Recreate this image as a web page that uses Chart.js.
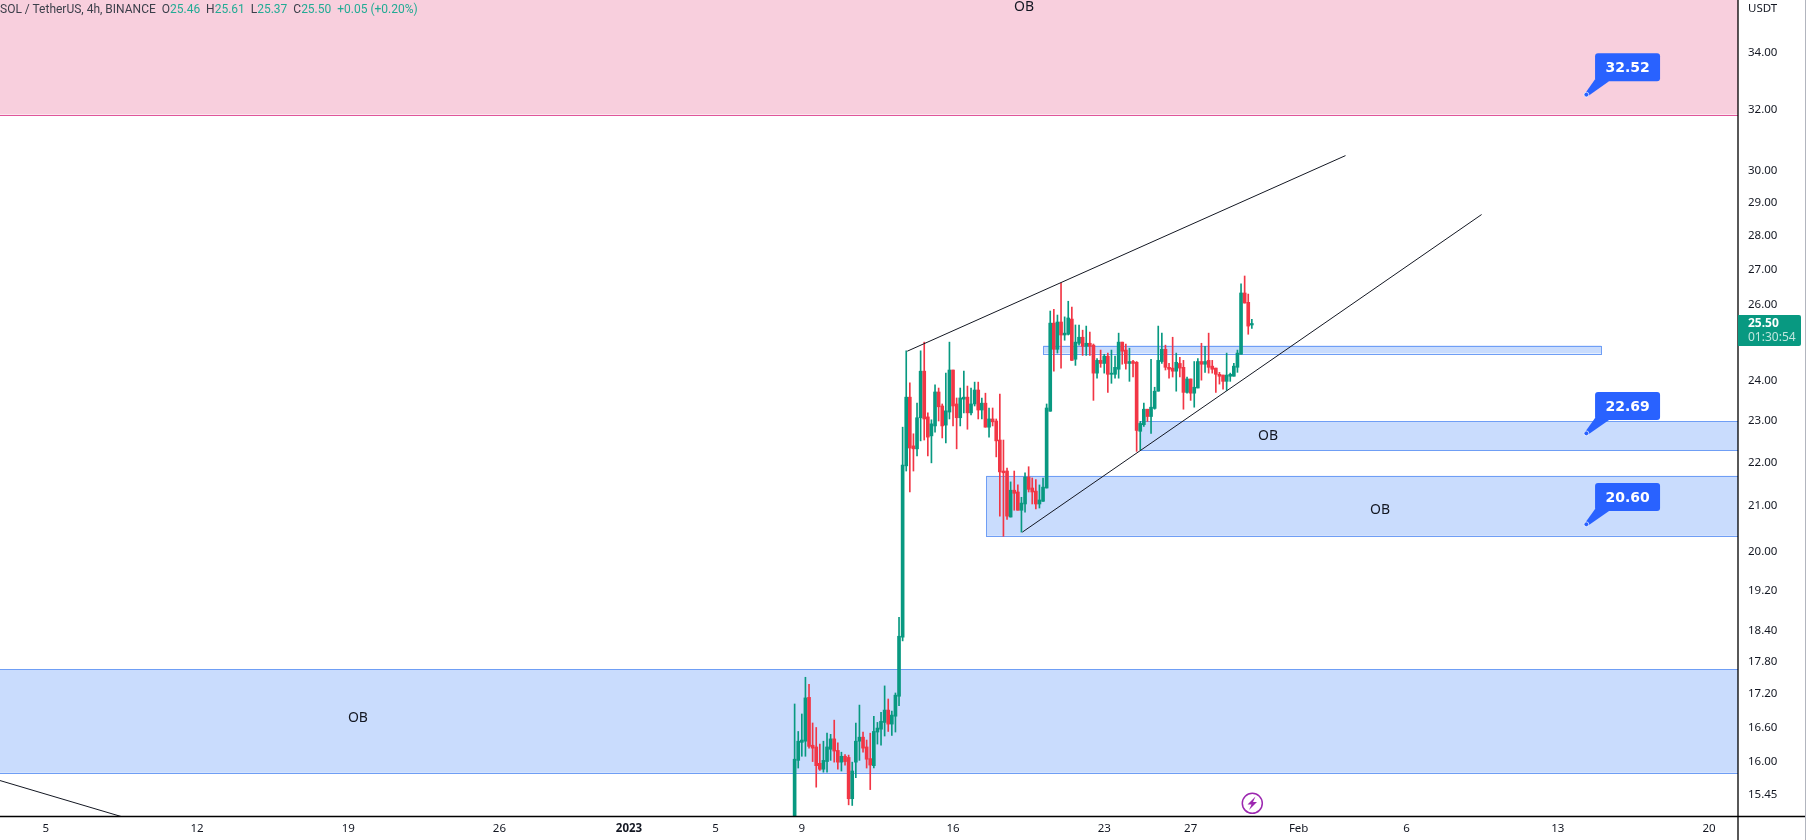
<!DOCTYPE html>
<html>
<head>
<meta charset="utf-8">
<title>SOL / TetherUS</title>
<script src="https://cdn.jsdelivr.net/npm/chart.js@4"></script>
<style>
    html, body { margin: 0; padding: 0; background: #fff; }
    #wrap { position: relative; width: 1806px; height: 840px; overflow: hidden; }
    canvas { display: block; }
    #header { position: absolute; left: 0; top: 2px; font: 12px Roboto, sans-serif; color: #3b3f4a; white-space: pre; }
    #header span { color: #22ab94; }
</style>
</head>
<body>
<div id="wrap">
    <canvas id="chart" width="1806" height="840"></canvas>
    <div id="header">SOL / TetherUS, 4h, BINANCE  O<span>25.46</span>  H<span>25.61</span>  L<span>25.37</span>  C<span>25.50</span>  <span>+0.05 (+0.20%)</span></div>
</div>
<script>
// x axis is in days from 1 Jan 2023, first candle is 8 Jan 16:00
const firstCandleDay = 7.667;
const xTickDays = [-27, -20, -13, -6, 0, 4, 8, 15, 22, 26, 31, 36, 43, 50];
const xTickLabels = ['5', '12', '19', '26', '2023', '5', '9', '16', '23', '27', 'Feb', '6', '13', '20'];
const yTicks = [15.45, 16, 16.6, 17.2, 17.8, 18.4, 19.2, 20, 21, 22, 23, 24, 26, 27, 28, 29, 30, 32, 34];

const opens = [
    14.60, 16.03, 16.34, 16.36, 17.14, 16.29, 16.26, 15.98, 15.88, 16.01,
    16.22, 16.40, 16.20, 16.00, 16.10, 16.08, 15.39, 16.00, 16.36, 16.43,
    16.26, 16.06, 15.94, 16.52, 16.57, 16.69, 16.91, 16.66, 16.80, 17.16,
    18.27, 21.92, 23.58, 22.39, 22.32, 23.07, 24.24, 23.09, 22.63, 22.87,
    23.71, 23.36, 22.89, 23.21, 24.27, 23.41, 23.07, 23.53, 23.58, 23.19,
    23.41, 23.76, 23.26, 23.43, 22.84, 23.04, 22.99, 22.53, 21.80, 21.80,
    20.76, 21.36, 21.32, 20.91, 21.05, 21.66, 21.41, 21.34, 21.05, 21.11,
    21.41, 23.23, 25.51, 24.81, 25.54, 25.19, 25.21, 25.62, 24.55, 24.97,
    25.13, 24.89, 24.97, 24.92, 24.19, 24.52, 24.44, 24.63, 24.16, 24.16,
    24.29, 25.00, 24.79, 24.44, 24.49, 24.47, 22.74, 22.90, 23.28, 23.10,
    23.30, 23.73, 24.49, 24.81, 24.34, 24.32, 24.24, 24.44, 24.34, 23.70,
    24.04, 23.68, 23.81, 24.49, 24.42, 24.52, 24.37, 24.32, 24.16, 24.14,
    23.98, 24.11, 24.11, 24.34, 24.68, 26.34, 26.08, 25.46
];
const highs = [
    17.02, 16.53, 16.84, 17.51, 17.38, 16.68, 16.60, 16.31, 16.36, 16.50,
    16.48, 16.73, 16.33, 16.17, 16.13, 16.12, 16.00, 16.68, 17.00, 16.52,
    16.38, 16.50, 16.80, 16.69, 16.87, 17.35, 17.11, 16.89, 17.22, 18.66,
    22.84, 24.77, 23.94, 22.68, 23.43, 24.77, 25.00, 23.19, 23.02, 23.89,
    23.81, 23.41, 24.19, 25.00, 24.27, 23.56, 23.81, 24.24, 23.86, 23.81,
    23.96, 23.96, 23.56, 23.68, 23.31, 23.31, 23.04, 23.66, 22.53, 21.87,
    21.55, 21.80, 21.48, 21.20, 21.76, 21.90, 21.64, 21.60, 21.48, 21.64,
    23.41, 25.84, 25.89, 25.73, 26.62, 25.68, 26.11, 25.95, 25.46, 25.46,
    25.32, 25.43, 25.27, 24.95, 24.57, 24.79, 24.68, 24.71, 24.79, 24.63,
    25.24, 25.00, 24.95, 24.84, 24.52, 24.49, 22.98, 23.43, 23.28, 24.55,
    23.83, 25.43, 25.24, 24.92, 24.44, 25.13, 24.71, 24.60, 24.52, 24.09,
    24.04, 24.49, 24.57, 24.97, 24.89, 25.24, 24.52, 24.32, 24.21, 24.14,
    24.71, 24.19, 24.44, 24.79, 26.60, 26.82, 26.31, 25.61
];
const lows = [
    14.50, 15.90, 16.10, 16.10, 16.24, 16.01, 15.58, 15.86, 15.83, 15.83,
    16.03, 16.00, 15.88, 15.85, 15.95, 15.29, 15.28, 15.74, 16.03, 16.17,
    15.90, 15.54, 15.90, 16.31, 16.29, 16.45, 16.53, 16.46, 16.52, 16.99,
    18.20, 21.80, 21.32, 21.80, 22.15, 22.51, 22.53, 22.15, 21.99, 22.72,
    22.99, 22.58, 22.46, 23.04, 22.87, 22.32, 22.87, 23.19, 22.79, 23.14,
    23.36, 23.04, 23.04, 22.84, 22.60, 22.87, 22.13, 20.78, 20.34, 20.71,
    20.76, 20.91, 20.91, 20.43, 20.87, 21.32, 21.05, 20.94, 20.96, 21.11,
    21.41, 23.23, 24.24, 24.71, 24.32, 25.05, 25.19, 24.52, 24.39, 24.92,
    24.65, 24.65, 24.65, 23.50, 24.06, 24.34, 24.19, 23.70, 23.93, 24.06,
    24.06, 24.42, 24.29, 23.98, 24.09, 22.26, 22.29, 22.86, 22.98, 22.69,
    23.28, 23.73, 24.44, 24.27, 24.06, 24.09, 23.73, 24.09, 23.28, 23.68,
    23.50, 23.33, 23.81, 24.01, 24.21, 24.19, 24.19, 23.70, 23.91, 23.78,
    23.75, 23.98, 24.11, 24.21, 24.68, 26.06, 25.21, 25.37
];
const closes = [
    16.05, 16.36, 16.38, 17.13, 16.27, 16.24, 15.94, 15.88, 16.03, 16.26,
    16.40, 16.19, 16.00, 16.10, 16.01, 15.39, 15.85, 16.36, 16.43, 16.24,
    16.05, 15.95, 16.53, 16.59, 16.71, 16.91, 16.66, 16.82, 17.18, 18.29,
    21.94, 23.58, 22.34, 22.32, 23.07, 24.24, 23.04, 22.60, 22.92, 23.71,
    23.34, 22.87, 23.24, 24.27, 23.36, 23.07, 23.56, 23.58, 23.19, 23.41,
    23.76, 23.26, 23.43, 22.84, 23.04, 22.97, 22.51, 21.78, 21.76, 20.78,
    21.36, 21.29, 20.91, 21.07, 21.66, 21.38, 21.32, 21.05, 21.14, 21.43,
    23.31, 25.51, 24.81, 25.54, 25.19, 25.24, 25.65, 24.52, 25.00, 25.13,
    24.89, 24.97, 24.89, 24.19, 24.52, 24.44, 24.63, 24.16, 24.19, 24.34,
    25.00, 24.76, 24.44, 24.49, 24.44, 22.76, 22.93, 23.28, 23.10, 23.33,
    23.73, 24.52, 24.81, 24.34, 24.29, 24.24, 24.47, 24.32, 23.70, 24.04,
    23.68, 23.83, 24.49, 24.42, 24.49, 24.34, 24.29, 24.16, 24.11, 23.98,
    24.14, 24.16, 24.37, 24.71, 26.34, 26.06, 25.43, 25.50
];

// order blocks: x from / x to (days), price top / bottom
const blockFrom = [-30, -30, 16.54, 23.66, 19.18];
const blockTo = [52, 52, 52, 52, 45.01];
const blockTop = [40, 17.66, 21.69, 22.98, 24.91];
const blockBottom = [31.84, 15.82, 20.35, 22.28, 24.70];
const blockFill = ['#f8cfdd', '#c9dcfd', '#c9dcfd', '#c9dcfd', '#c9dcfd'];
const blockEdge = ['#e0559a', '#6f9ef5', '#6f9ef5', '#6f9ef5', '#6f9ef5'];

const obDays = [18.29, -12.55, 29.58, 34.77];
const obPrices = [35.69, 16.76, 22.63, 20.92];

const calloutDays = [44.32, 44.32, 44.32];
const calloutPrices = [32.52, 22.69, 20.60];

const lineDays = [[12.88, 33.17], [18.21, 39.47], [-29.12, -23.2]];
const linePrices = [[24.76, 30.48], [20.43, 28.63], [15.69, 15.07]];

const green = '#089981', red = '#f23645';
const candleColors = closes.map((c, i) => c >= opens[i] ? green : red);
const candleDay = i => firstCandleDay + i / 6;

// shaded boxes go under the candles
const blocksPlugin = {
    id: 'blocks',
    beforeDatasetsDraw(chart) {
        const { ctx, chartArea, scales: { x, y } } = chart;
        ctx.save();
        ctx.beginPath();
        ctx.rect(chartArea.left, chartArea.top, chartArea.width, chartArea.height);
        ctx.clip();
        blockTop.forEach((top, i) => {
            const x1 = x.getPixelForValue(blockFrom[i]), x2 = x.getPixelForValue(blockTo[i]);
            const y1 = y.getPixelForValue(top), y2 = y.getPixelForValue(blockBottom[i]);
            ctx.fillStyle = blockFill[i];
            ctx.fillRect(x1, y1, x2 - x1, y2 - y1);
            ctx.strokeStyle = blockEdge[i];
            ctx.lineWidth = 1;
            ctx.strokeRect(Math.round(x1) + 0.5, Math.round(y1) + 0.5, Math.round(x2 - x1), Math.round(y2 - y1));
        });
        ctx.restore();
    }
};

const notesPlugin = {
    id: 'notes',
    afterDraw(chart) {
        const { ctx, scales: { x, y } } = chart;
        ctx.save();

        // frame round the axes
        ctx.strokeStyle = '#000';
        ctx.lineWidth = 1.3;
        ctx.beginPath();
        ctx.moveTo(0, 816.5); ctx.lineTo(1806, 816.5);
        ctx.moveTo(1738, 0); ctx.lineTo(1738, 840);
        ctx.stroke();
        ctx.strokeStyle = '#b2b5be';
        ctx.lineWidth = 1;
        ctx.beginPath();
        ctx.moveTo(1805.5, 0); ctx.lineTo(1805.5, 840);
        ctx.stroke();

        ctx.textAlign = 'center';
        ctx.textBaseline = 'middle';
        ctx.fillStyle = '#131722';
        ctx.font = '14px "Noto Sans"';
        obDays.forEach((d, i) => ctx.fillText('OB', x.getPixelForValue(d), y.getPixelForValue(obPrices[i])));

        // blue price callouts
        calloutDays.forEach((d, i) => {
            const px = x.getPixelForValue(d), py = y.getPixelForValue(calloutPrices[i]);
            const left = px + 8.7, top = py - 41.4;
            ctx.fillStyle = '#2962ff';
            ctx.beginPath();
            ctx.roundRect(left, top, 65, 28, 3);
            ctx.fill();
            ctx.beginPath();
            ctx.moveTo(px - 1.5, py - 1);
            ctx.lineTo(left, top + 26);
            ctx.lineTo(left + 14, top + 28);
            ctx.lineTo(px + 1.5, py + 1.5);
            ctx.closePath();
            ctx.fill();
            ctx.beginPath();
            ctx.arc(px, py, 2.4, 0, Math.PI * 2);
            ctx.fill();
            ctx.strokeStyle = '#fff';
            ctx.lineWidth = 0.7;
            ctx.stroke();
            ctx.fillStyle = '#fff';
            ctx.font = 'bold 14px "DejaVu Sans"';
            ctx.fillText(calloutPrices[i].toFixed(2), left + 32.5, top + 15.5);
        });

        // lightning mark
        ctx.strokeStyle = '#9c27b0';
        ctx.lineWidth = 1.5;
        ctx.beginPath();
        ctx.arc(1252.3, 803.3, 10, 0, Math.PI * 2);
        ctx.stroke();
        ctx.fillStyle = '#9c27b0';
        ctx.beginPath();
        ctx.moveTo(1255.5, 796.5);
        ctx.lineTo(1247.5, 804.5);
        ctx.lineTo(1251.5, 804.5);
        ctx.lineTo(1249, 810);
        ctx.lineTo(1257, 802);
        ctx.lineTo(1253, 802);
        ctx.closePath();
        ctx.fill();

        // last price tag
        ctx.fillStyle = green;
        ctx.beginPath();
        ctx.roundRect(1738, 315, 63, 31, [0, 2, 2, 0]);
        ctx.fill();
        ctx.textAlign = 'left';
        ctx.fillStyle = '#fff';
        ctx.font = 'bold 12px "Noto Sans"';
        ctx.fillText('25.50', 1748, 324);
        ctx.fillStyle = '#bfe6de';
        ctx.font = '12px "Noto Sans"';
        ctx.fillText('01:30:54', 1748, 338);

        ctx.fillStyle = '#131722';
        ctx.font = '11.5px "Noto Sans"';
        ctx.fillText('USDT', 1748, 9);
        ctx.restore();
    }
};

new Chart(document.getElementById('chart'), {
    type: 'bar',
    data: {
        datasets: [
            ...lineDays.map((days, i) => ({
                type: 'line',
                data: days.map((d, j) => ({ x: d, y: linePrices[i][j] })),
                borderColor: '#131722',
                borderWidth: 1,
                pointRadius: 0,
                order: 0
            })),
            {
                data: opens.map((o, i) => ({ x: candleDay(i), y: [o, closes[i]] })),
                backgroundColor: candleColors,
                barThickness: 3,
                minBarLength: 1,
                order: 1
            },
            {
                data: lows.map((l, i) => ({ x: candleDay(i), y: [l, highs[i]] })),
                backgroundColor: candleColors,
                barThickness: 1,
                order: 2
            }
        ]
    },
    options: {
        responsive: false,
        animation: false,
        events: [],
        grouped: false,
        layout: { padding: 0 },
        plugins: { legend: { display: false }, tooltip: { enabled: false } },
        scales: {
            x: {
                type: 'linear',
                offset: false,
                min: -29.12,
                max: 51.34,
                afterBuildTicks: s => { s.ticks = xTickDays.map(v => ({ value: v })); },
                afterFit: s => { s.height = 23; s.paddingLeft = 0; s.paddingRight = 0; },
                grid: { display: false, drawTicks: false },
                border: { display: false },
                ticks: {
                    autoSkip: false,
                    maxRotation: 0,
                    padding: 5,
                    color: '#131722',
                    font: c => ({ family: 'Noto Sans', size: 11.5, weight: c.tick && c.tick.value === 0 ? 'bold' : 'normal' }),
                    callback: v => xTickLabels[xTickDays.indexOf(v)]
                }
            },
            y: {
                type: 'logarithmic',
                position: 'right',
                min: 15.094,
                max: 35.96,
                afterBuildTicks: s => { s.ticks = yTicks.map(v => ({ value: v })); },
                afterFit: s => { s.width = 68; s.paddingTop = 0; s.paddingBottom = 0; },
                grid: { display: false, drawTicks: false },
                border: { display: false },
                ticks: {
                    autoSkip: false,
                    padding: 10,
                    crossAlign: 'near',
                    color: '#131722',
                    font: { family: 'Noto Sans', size: 11.5 },
                    callback: v => v.toFixed(2)
                }
            }
        }
    },
    plugins: [blocksPlugin, notesPlugin]
});
</script>
</body>
</html>
